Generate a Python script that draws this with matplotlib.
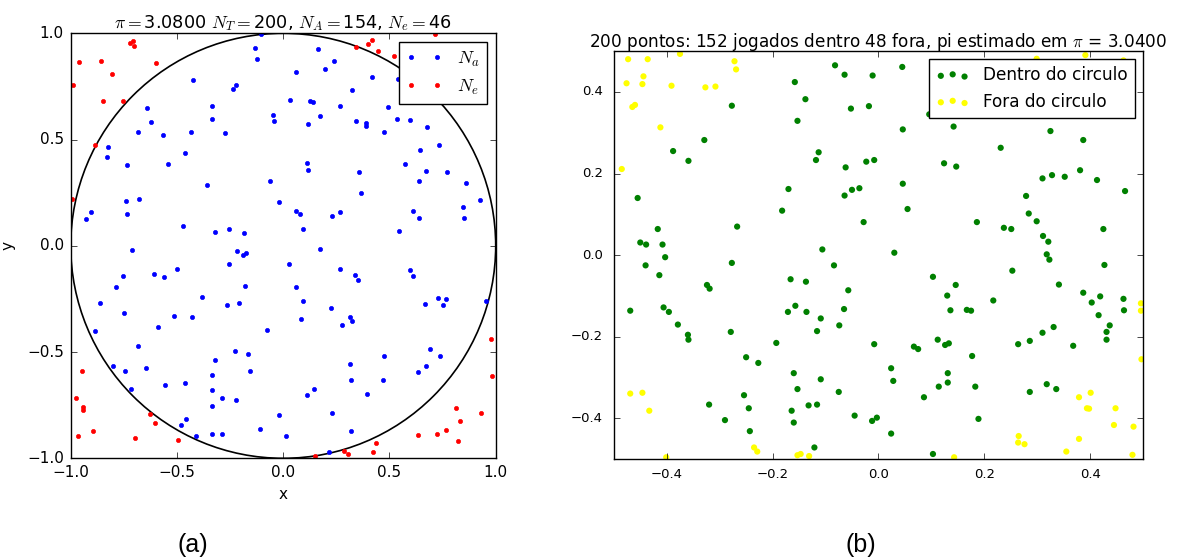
import matplotlib
matplotlib.use("Agg")
import matplotlib.pyplot as plt
from matplotlib.patches import Circle

# === (a) square [-1, 1] x [-1, 1], unit circle ===
blue_x = [-0.104, -0.132, -0.124, -0.424, -0.223, -0.237, -0.640, -0.336, -0.623, -0.333, -0.049,
          -0.045, -0.685, -0.565, -0.436, -0.275, -0.827, -0.831, -0.461, -0.540, -0.736, -0.358,
          -0.060, -0.020, -0.740, -0.678, -0.905, -0.927, -0.734, -0.474, -0.320, -0.257, -0.184,
          0.164, 0.239, 0.197, 0.059, 0.417, 0.542, 0.326, 0.030, 0.126, 0.139, 0.269, 0.493, 0.172,
          0.118, 0.342, 0.388, 0.388, 0.534, 0.597, 0.675, 0.476, 0.732, 0.642, 0.114, 0.118, 0.572,
          0.357, 0.670, 0.771, 0.638, 0.859, 0.368, 0.928, 0.845, 0.059, 0.081, 0.269, 0.229, 0.613,
          0.638, 0.850, 0.093, 0.546,
          -0.711, -0.216, -0.191, -0.176, -0.257, -0.499, -0.610, -0.560, -0.756, -0.789, -0.179,
          -0.381, -0.861, -0.265, -0.207, -0.747, -0.515, -0.431, -0.885, -0.590, -0.075, -0.682,
          -0.229, -0.166, -0.320, -0.802, -0.744, -0.648, -0.154, -0.336, -0.555, -0.461, -0.718,
          -0.333, -0.287, -0.220, -0.336, -0.022, -0.456, -0.482, -0.111, -0.411, -0.336, -0.287,
          0.172, 0.026, 0.269, 0.338, 0.350, 0.598, 0.609, 0.060, 0.093, 0.227, 0.729, 0.764, 0.668,
          0.751, 0.953, 0.085, 0.313, 0.326, 0.276, 0.691, 0.475, 0.737, 0.313, 0.671, 0.634, 0.318,
          0.468, 0.147, 0.110, 0.393, 0.229, 0.321, 0.015, 0.215]
blue_y = [0.995, 0.932, 0.878, 0.778, 0.758, 0.737, 0.649, 0.657, 0.582, 0.595, 0.616,
          0.587, 0.536, 0.521, 0.536, 0.529, 0.466, 0.416, 0.438, 0.387, 0.378, 0.284,
          0.304, 0.204, 0.212, 0.221, 0.158, 0.124, 0.149, 0.091, 0.066, 0.078, 0.061,
          0.924, 0.871, 0.833, 0.816, 0.795, 0.784, 0.733, 0.687, 0.682, 0.675, 0.659, 0.654, 0.613,
          0.574, 0.587, 0.579, 0.563, 0.599, 0.591, 0.557, 0.536, 0.474, 0.453, 0.392, 0.355, 0.383,
          0.345, 0.353, 0.345, 0.304, 0.295, 0.249, 0.216, 0.184, 0.166, 0.149, 0.157, 0.141, 0.162,
          0.129, 0.129, 0.078, 0.071,
          -0.020, -0.025, -0.042, -0.036, -0.087, -0.108, -0.133, -0.149, -0.141, -0.196, -0.188,
          -0.243, -0.271, -0.279, -0.267, -0.317, -0.329, -0.334, -0.403, -0.384, -0.397, -0.471,
          -0.496, -0.508, -0.538, -0.566, -0.587, -0.574, -0.591, -0.609, -0.653, -0.646, -0.675,
          -0.679, -0.717, -0.725, -0.753, -0.794, -0.813, -0.841, -0.863, -0.896, -0.886, -0.886,
          -0.017, -0.087, -0.108, -0.138, -0.163, -0.113, -0.141, -0.196, -0.262, -0.292, -0.246,
          -0.251, -0.275, -0.279, -0.262, -0.346, -0.337, -0.354, -0.374, -0.487, -0.520, -0.520,
          -0.558, -0.566, -0.596, -0.633, -0.633, -0.676, -0.704, -0.696, -0.787, -0.870, -0.896,
          -0.970]
red_x = [-0.720, -0.709, -0.704, -0.960, -0.856, -0.599, -0.806, -0.990, -0.849, -0.753, -0.885,
         -0.993, 0.342, 0.397, 0.418, 0.448, 0.521, 0.714,
         -0.947, -0.977, -0.940, -0.940, -0.894, -0.965, -0.627, -0.605, -0.696, -0.494,
         0.978, 0.983, 0.812, 0.930, 0.830, 0.764, 0.723, 0.634, 0.823, 0.439, 0.421, 0.288, 0.305,
         0.148]
red_y = [0.954, 0.963, 0.941, 0.866, 0.871, 0.861, 0.808, 0.758, 0.682, 0.682, 0.475,
         0.218, 0.936, 0.952, 0.969, 0.916, 0.891, 0.996,
         -0.591, -0.717, -0.758, -0.775, -0.871, -0.896, -0.791, -0.833, -0.904, -0.916,
         -0.440, -0.611, -0.762, -0.787, -0.825, -0.867, -0.887, -0.892, -0.920, -0.928, -0.970,
         -0.966, -0.979, -0.990]

# === (b) square [-0.5, 0.5]^2 ===
green_x = [-0.082, -0.064, -0.011, -0.158, -0.138, -0.052, -0.018, -0.277, -0.153, -0.329, -0.388,
           -0.359, -0.113, -0.118, -0.023, -0.008, -0.062, -0.170, -0.064, -0.050, -0.036, -0.455,
           -0.182, -0.028, -0.267, -0.417, -0.450, -0.439, -0.408, -0.106, -0.403,
           0.045, 0.046, 0.142, 0.096, 0.325, 0.387, 0.231, 0.124, 0.147, 0.381, 0.310, 0.328, 0.352,
           0.413, 0.046, 0.466, 0.279, 0.055, 0.284, 0.299, 0.186, 0.237, 0.251, 0.425, 0.311, 0.321,
           0.030,
           -0.440, -0.414, -0.277, -0.084, -0.166, -0.137, -0.324, -0.319, -0.057, -0.469, -0.406,
           -0.396, -0.171, -0.157, -0.136, -0.065, -0.109, -0.379, -0.116, -0.074, -0.360, -0.359,
           -0.279, -0.193, -0.008, -0.250, -0.227, -0.160, -0.109, -0.153, -0.075, -0.254, -0.320,
           -0.245, -0.132, -0.116, -0.164, -0.045, -0.012, -0.003, -0.290, -0.160, -0.243, -0.121,
           0.318, 0.323, 0.427, 0.253, 0.103, 0.146, 0.341, 0.130, 0.387, 0.403, 0.419, 0.463, 0.217,
           0.136, 0.167, 0.175, 0.416, 0.464, 0.437, 0.431, 0.431, 0.331, 0.310, 0.067, 0.075, 0.112,
           0.126, 0.133, 0.264, 0.286, 0.368, 0.177, 0.024, 0.028, 0.131, 0.131, 0.114, 0.183, 0.086,
           0.286, 0.318, 0.336, 0.189, 0.024, 0.103]
green_y = [0.465, 0.442, 0.440, 0.424, 0.382, 0.359, 0.365, 0.366, 0.329, 0.282, 0.255,
           0.231, 0.252, 0.233, 0.229, 0.233, 0.215, 0.162, 0.146, 0.160, 0.164, 0.140,
           0.109, 0.081, 0.070, 0.064, 0.031, 0.026, 0.026, 0.014, -0.005,
           0.461, 0.308, 0.315, 0.345, 0.304, 0.282, 0.263, 0.225, 0.217, 0.208, 0.188, 0.196, 0.192,
           0.184, 0.175, 0.157, 0.145, 0.113, 0.102, 0.083, 0.081, 0.067, 0.064, 0.064, 0.047, 0.033,
           0.006,
           -0.025, -0.049, -0.019, -0.025, -0.059, -0.065, -0.073, -0.082, -0.086, -0.136, -0.128,
           -0.139, -0.139, -0.124, -0.139, -0.132, -0.155, -0.170, -0.186, -0.172, -0.195, -0.207,
           -0.188, -0.215, -0.218, -0.250, -0.264, -0.289, -0.304, -0.328, -0.335, -0.343, -0.366,
           -0.375, -0.368, -0.366, -0.381, -0.393, -0.406, -0.398, -0.404, -0.410, -0.431, -0.471,
           0.002, -0.011, -0.024, -0.038, -0.053, -0.073, -0.072, -0.099, -0.092, -0.116, -0.101,
           -0.107, -0.111, -0.135, -0.134, -0.136, -0.147, -0.135, -0.172, -0.188, -0.207, -0.176,
           -0.190, -0.224, -0.230, -0.207, -0.220, -0.216, -0.218, -0.210, -0.222, -0.247, -0.277,
           -0.308, -0.289, -0.312, -0.322, -0.322, -0.348, -0.335, -0.316, -0.328, -0.401, -0.437,
           -0.487]
yellow_x = [-0.473, -0.436, -0.375, -0.272, -0.269, -0.476, -0.444, -0.446, -0.391, -0.327, -0.308,
            -0.465, -0.460, -0.412, -0.485, 0.299, 0.391, 0.463,
            -0.469, -0.446, -0.433, -0.401, -0.235, -0.229, -0.153, -0.147, -0.131,
            0.379, 0.401, 0.394, 0.398, 0.448, 0.445, 0.482, 0.379, 0.265, 0.264, 0.276, 0.355,
            0.480, 0.143, 0.496, 0.496, 0.497]
yellow_y = [0.480, 0.480, 0.493, 0.475, 0.455, 0.421, 0.438, 0.419, 0.415, 0.411, 0.413,
            0.363, 0.368, 0.313, 0.211, 0.481, 0.490, 0.477,
            -0.339, -0.337, -0.381, -0.495, -0.471, -0.481, -0.490, -0.487, -0.492,
            -0.348, -0.337, -0.375, -0.376, -0.375, -0.416, -0.420, -0.450, -0.443, -0.459, -0.463,
            -0.481, -0.489, -0.495, -0.118, -0.136, -0.255]

plt.style.use("classic")
plt.rcParams["figure.facecolor"] = "white"
plt.rcParams["savefig.facecolor"] = "white"

fig = plt.figure(figsize=(11.85, 5.57), dpi=100)

# === Panel (a) ===
ax1 = fig.add_axes([0.0597, 0.1772, 0.3586, 0.7630])
ax1.plot(blue_x, blue_y, ".", color="blue", markersize=6, label=r"$N_a$")
ax1.plot(red_x, red_y, ".", color="red", markersize=6, label=r"$N_e$")
ax1.add_patch(Circle((0, 0), 1, fill=False, edgecolor="black", linewidth=1.2))
ax1.set_xlim(-1, 1)
ax1.set_ylim(-1, 1)
ax1.set_xticks([-1.0, -0.5, 0.0, 0.5, 1.0])
ax1.set_yticks([-1.0, -0.5, 0.0, 0.5, 1.0])
ax1.tick_params(labelsize=11, pad=5)
ax1.set_xlabel("x", fontsize=11)
ax1.set_ylabel("y", fontsize=11, labelpad=8)
ax1.set_title(r"$\pi = $3.0800 $N_T = $200, $N_A = $154, $N_e = $46", fontsize=12.7, pad=4)
ax1.legend(loc="upper right", numpoints=2, fontsize=13)

# === Panel (b) ===
ax2 = fig.add_axes([0.518, 0.1754, 0.4466, 0.7330])
ax2.scatter(green_x, green_y, s=20, color="green", edgecolors="none", label="Dentro do circulo")
ax2.scatter(yellow_x, yellow_y, s=20, color="yellow", edgecolors="none", label="Fora do circulo")
ax2.set_xlim(-0.5, 0.5)
ax2.set_ylim(-0.5, 0.5)
ax2.set_xticks([-0.4, -0.2, 0.0, 0.2, 0.4])
ax2.set_yticks([-0.4, -0.2, 0.0, 0.2, 0.4])
ax2.tick_params(labelsize=9.5, pad=6)
ax2.tick_params(axis="y", pad=8)
ax2.set_title(r"200 pontos: 152 jogados dentro 48 fora, pi estimado em $\pi$ = 3.0400",
              fontsize=12.2, pad=3)
ax2.legend(loc="upper right", scatterpoints=3, fontsize=12.2)

fig.text(0.163, 0.009, "(a)", fontsize=18, family="Liberation Sans", ha="center", va="baseline")
fig.text(0.7266, 0.009, "(b)", fontsize=18, family="Liberation Sans", ha="center", va="baseline")

fig.savefig("out.png", dpi=100)
